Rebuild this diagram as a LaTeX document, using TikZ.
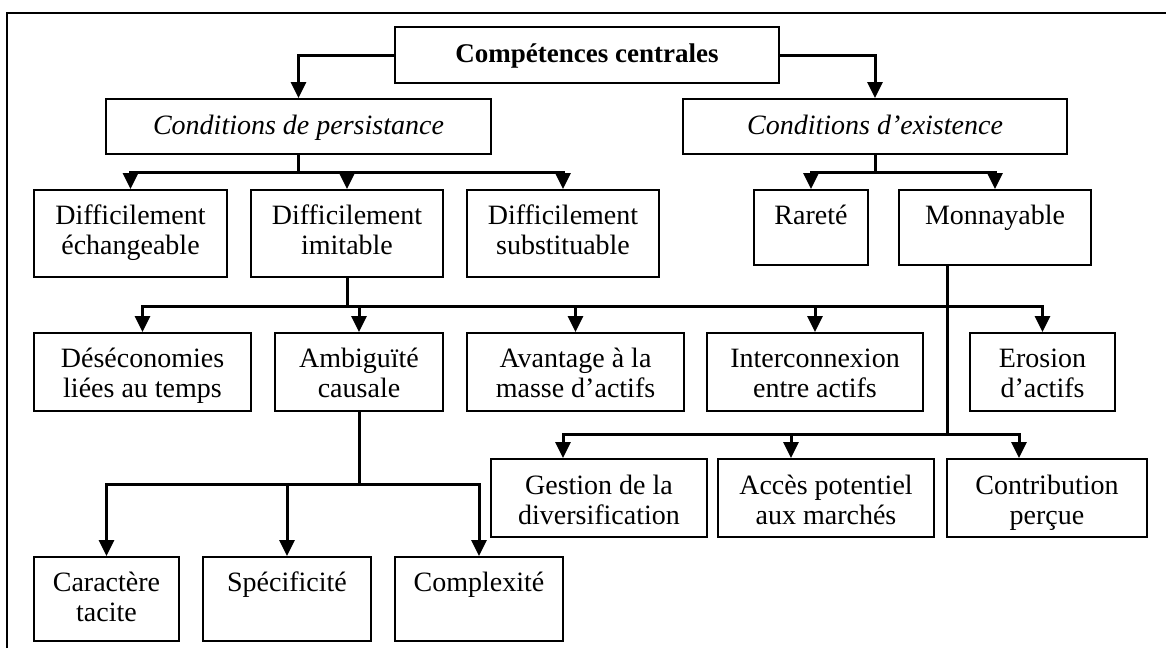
\documentclass[tikz,border=0pt]{standalone}
\usepackage{fontspec}
\setmainfont{Liberation Serif}
\usetikzlibrary{arrows.meta}

% box with its text hung from the top edge
\newcommand\cbox[7][14]{%
  \node[box, minimum width=#5pt, minimum height=#6pt,
        label={[lab, yshift=-#1pt]north:{#7}}] (#2) at (#3,#4) {};}

\begin{document}
\begin{tikzpicture}[x=1pt, y=-1pt,
  box/.style={draw, line width=2pt, inner sep=0pt},
  lab/.style={anchor=north, inner sep=0pt, align=center,
              font=\fontsize{28}{30}\selectfont},
  link/.style={line width=3pt},
  arr/.style={link, -{Triangle[length=16pt, width=15pt]}}]

\useasboundingbox (0,0) rectangle (1166,648);

% outer frame (open on the right and bottom)
\draw[line width=2pt] (7,648) -- (7,12.5) -- (1166,12.5);

% top level
\cbox[15]{comp}{587}{55}{384}{56}{\strut\fontsize{27}{30}\selectfont\bfseries Compétences centrales}
\cbox[15]{pers}{298.5}{126.5}{385}{55}{\strut\itshape Conditions de persistance}
\cbox[15]{exis}{875}{126.5}{384}{55}{\strut\itshape Conditions d’existence}

% second level
\cbox{dech}{130.5}{233.5}{193}{87}{\strut Difficilement\\\strut échangeable}
\cbox{dimi}{347}{233.5}{192}{87}{\strut Difficilement\\\strut imitable}
\cbox{dsub}{563}{233.5}{192}{87}{\strut Difficilement\\\strut substituable}
\cbox{rare}{811}{227.5}{114}{75}{\strut Rareté}
\cbox{monn}{995}{227.5}{192}{75}{\strut Monnayable}

% third level
\cbox{dese}{142.5}{372}{217}{78}{\strut Déséconomies\\\strut liées au temps}
\cbox{ambi}{359}{372}{168}{78}{\strut Ambiguïté\\\strut causale}
\cbox{avan}{575.5}{372}{217}{78}{\strut Avantage à la\\\strut masse d’actifs}
\cbox{inte}{815}{372}{216}{78}{\strut Interconnexion\\\strut entre actifs}
\cbox{eros}{1042.5}{372}{145}{78}{\strut Erosion\\\strut d’actifs}

% under Monnayable
\cbox[15]{gest}{599}{498}{216}{78}{\strut Gestion de la\\\strut diversification}
\cbox[15]{acce}{826}{498}{216}{78}{\strut Accès potentiel\\\strut aux marchés}
\cbox[15]{cont}{1047}{498}{200}{78}{\strut Contribution\\\strut perçue}

% under Ambiguïté causale
\cbox{cara}{106.5}{599}{145}{84}{\strut Caractère\\\strut tacite}
\cbox{spec}{287}{599}{168}{84}{\strut Spécificité}
\cbox{cplx}{479}{599}{168}{84}{\strut Complexité}

% connectors
\draw[arr] (comp.west) -| (pers.north);
\draw[arr] (comp.east) -| (exis.north);

\foreach \c in {dech,dimi,dsub}
  \draw[arr] (pers.south) -- ++(0,17.5) -| (\c.north);
\foreach \c in {rare,monn}
  \draw[arr] (exis.south) -- ++(0,17.5) -| (\c.north);

\foreach \c in {dese,ambi,avan,inte,eros}
  \draw[arr] (dimi.south) -- ++(0,28) -| (\c.north);

\coordinate (mstem) at ([xshift=-48pt]monn.south);
\coordinate (gin) at ([xshift=-36pt]gest.north);
\coordinate (ain) at ([xshift=-35pt]acce.north);
\coordinate (cin) at ([xshift=-28pt]cont.north);
\foreach \c in {gin,ain,cin}
  \draw[arr] (mstem) -- ++(0,168) -| (\c);

\foreach \c in {cara,spec,cplx}
  \draw[arr] (ambi.south) -- ++(0,72) -| (\c.north);

\end{tikzpicture}
\end{document}
